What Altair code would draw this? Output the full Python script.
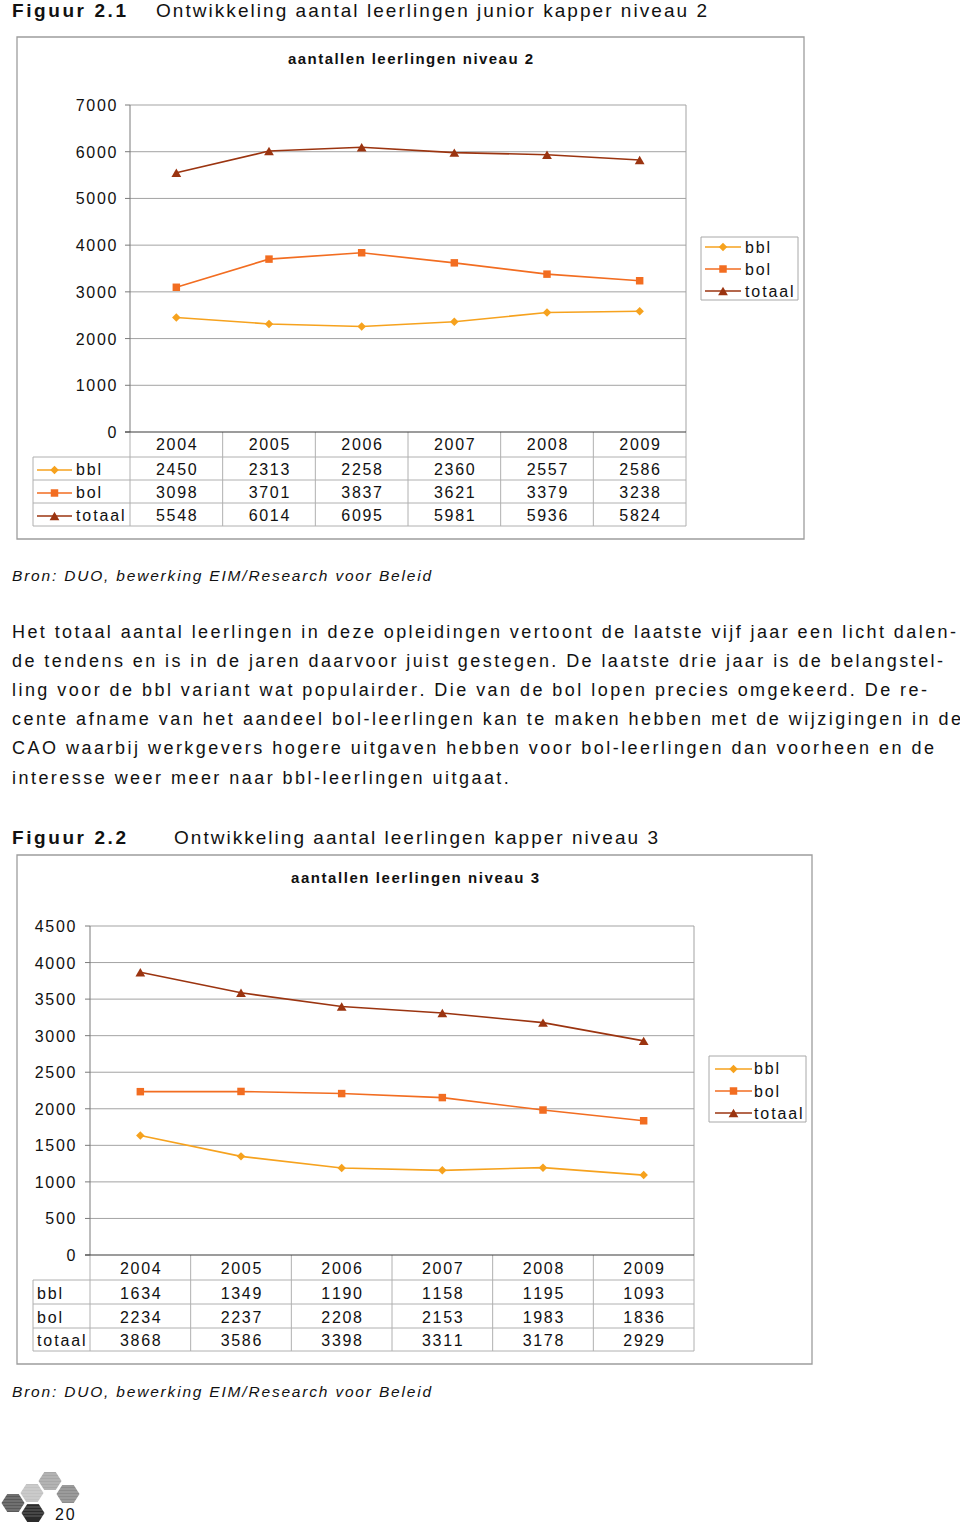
import altair as alt
import pandas as pd

# ---------------- data ----------------
years = ["2004", "2005", "2006", "2007", "2008", "2009"]
series = ["bbl", "bol", "totaal"]

n2_bbl = [2450, 2313, 2258, 2360, 2557, 2586]
n2_bol = [3098, 3701, 3837, 3621, 3379, 3238]
n2_totaal = [5548, 6014, 6095, 5981, 5936, 5824]
n2_ticks = [0, 1000, 2000, 3000, 4000, 5000, 6000, 7000]

n3_bbl = [1634, 1349, 1190, 1158, 1195, 1093]
n3_bol = [2234, 2237, 2208, 2153, 1983, 1836]
n3_totaal = [3868, 3586, 3398, 3311, 3178, 2929]
n3_ticks = [0, 500, 1000, 1500, 2000, 2500, 3000, 3500, 4000, 4500]

fig1_label = "Figuur 2.1"
fig1_title = "Ontwikkeling aantal leerlingen junior kapper niveau 2"
chart1_title = "aantallen leerlingen niveau 2"
fig2_label = "Figuur 2.2"
fig2_title = "Ontwikkeling aantal leerlingen kapper niveau 3"
chart2_title = "aantallen leerlingen niveau 3"
source_text = "Bron: DUO, bewerking EIM/Research voor Beleid"
paragraph = [
    "Het totaal aantal leerlingen in deze opleidingen vertoont de laatste vijf jaar een licht dalen-",
    "de tendens en is in de jaren daarvoor juist gestegen. De laatste drie jaar is de belangstel-",
    "ling voor de bbl variant wat populairder. Die van de bol lopen precies omgekeerd. De re-",
    "cente afname van het aandeel bol-leerlingen kan te maken hebben met de wijzigingen in de",
    "CAO waarbij werkgevers hogere uitgaven hebben voor bol-leerlingen dan voorheen en de",
    "interesse weer meer naar bbl-leerlingen uitgaat.",
]
page_number = "20"

# ---------------- styles ----------------
series_colors = ["#F6A21E", "#F26D21", "#9B3410"]
series_shapes = ["diamond", "square", "triangle-up"]
marker_sizes = [72, 56, 95]
TXT = "#111111"
GRID = "#a3a3a3"
TBL = "#b0b0b0"
AXIS = "#7a7a7a"
FONT = "Liberation Sans"

REG = {' ': 278, '!': 278, ',': 278, '-': 333, '.': 278, '/': 278, ':': 278,
       'A': 667, 'B': 667, 'C': 722, 'D': 722, 'E': 667, 'F': 611, 'G': 778, 'H': 722,
       'I': 278, 'J': 500, 'K': 667, 'L': 556, 'M': 833, 'N': 722, 'O': 778, 'P': 667,
       'Q': 778, 'R': 722, 'S': 667, 'T': 611, 'U': 722, 'V': 667, 'W': 944, 'X': 667,
       'Y': 667, 'Z': 611,
       'a': 556, 'b': 556, 'c': 500, 'd': 556, 'e': 556, 'f': 278, 'g': 556, 'h': 556,
       'i': 222, 'j': 222, 'k': 500, 'l': 222, 'm': 833, 'n': 556, 'o': 556, 'p': 556,
       'q': 556, 'r': 333, 's': 500, 't': 278, 'u': 556, 'v': 500, 'w': 722, 'x': 500,
       'y': 500, 'z': 500}
BOLD = dict(REG)
BOLD.update({'a': 556, 'b': 611, 'c': 556, 'd': 611, 'e': 556, 'f': 333, 'g': 611,
             'h': 611, 'i': 278, 'j': 278, 'k': 556, 'l': 278, 'm': 889, 'n': 611,
             'o': 611, 'p': 611, 'q': 611, 'r': 389, 's': 556, 't': 333, 'u': 611,
             'v': 556, 'w': 778, 'x': 556, 'y': 556, 'z': 500, 'F': 611})


def advances(s, style, size):
    tbl = BOLD if style == "bold" else REG
    return [tbl.get(c, 556) * size / 1000.0 for c in s]


def fit_k(s, style, size, x0, x1):
    w = advances(s, style, size)
    return (x1 - x0 - sum(w)) / max(len(s) - 1, 1)


def place(s, x0, y, size, style, k):
    rows = []
    x = x0
    for c, a in zip(s, advances(s, style, size)):
        if c != " ":
            rows.append({"ch": c, "x": x, "y": y, "size": size, "style": style})
        x += a + k
    return rows


# ---------------- page text (letter-spaced, char by char) ----------------
HS = 19   # heading size
PS = 18   # paragraph size
CS = 15   # chart title size
SS = 15.5  # source size
LS = 16   # chart labels size
rows = []
rows += place(fig1_label, 12, 11, HS, "bold", fit_k(fig1_label, "bold", HS, 12, 126))
rows += place(fig1_title, 156, 11, HS, "normal", fit_k(fig1_title, "normal", HS, 156, 707))
rows += place(chart1_title, 288, 59, CS, "bold", fit_k(chart1_title, "bold", CS, 288, 533))
rows += place(source_text, 12, 576, SS, "italic", fit_k(source_text, "normal", SS, 12, 431))
par_ends = [956, 943, 927, 961, 934]
ks = [fit_k(t, "normal", PS, 12, e) for t, e in zip(paragraph[:5], par_ends)]
kmean = sum(ks) / len(ks)
for j, line in enumerate(paragraph):
    k = ks[j] if j < len(ks) else kmean
    rows += place(line, 12, 632.5 + j * 29.2, PS, "normal", k)
rows += place(fig2_label, 12, 837.5, HS, "bold", fit_k(fig2_label, "bold", HS, 12, 126))
rows += place(fig2_title, 174, 837.5, HS, "normal", fit_k(fig2_title, "normal", HS, 174, 658))
rows += place(chart2_title, 291, 878, CS, "bold", fit_k(chart2_title, "bold", CS, 291, 539))
rows += place(source_text, 12, 1392, SS, "italic", fit_k(source_text, "normal", SS, 12, 431))
rows += place(page_number, 55, 1514.5, LS, "normal", 1.8)
# series labels in the tables and legends
LK = 1.9
for s, yy in zip(series, [470, 493, 516]):
    rows += place(s, 76, yy, LS, "normal", LK)
for s, yy in zip(series, [247.5, 269.5, 291.5]):
    rows += place(s, 745, yy, LS, "normal", LK)
for s, yy in zip(series, [1294, 1318, 1341]):
    rows += place(s, 37, yy, LS, "normal", LK)
for s, yy in zip(series, [1069, 1091.5, 1113.5]):
    rows += place(s, 754, yy, LS, "normal", LK)

page = pd.DataFrame(rows)


def text_layer(style):
    d = page[page["style"] == style]
    return alt.Chart(d).mark_text(
        align="left", baseline="middle", font=FONT, color=TXT,
        fontWeight="bold" if style == "bold" else "normal",
        fontStyle="italic" if style == "italic" else "normal",
    ).encode(
        x=alt.X("x:Q", scale=None, axis=None),
        y=alt.Y("y:Q", scale=None, axis=None),
        size=alt.Size("size:Q", scale=None, legend=None),
        text="ch:N",
    )


# logo (decorative hexagons)
HEX = "M-1,0 L-0.5,-0.78 L0.5,-0.78 L1,0 L0.5,0.78 L-0.5,0.78 Z"
logo = pd.DataFrame({
    "x": [50, 32, 68, 13, 33],
    "y": [1481, 1493, 1494, 1503, 1513],
    "col": ["#a8a8a8", "#c2c2c2", "#8c8c8c", "#5a5a5a", "#2b2b2b"],
})
logo_layer = alt.Chart(logo).mark_point(shape=HEX, filled=True, opacity=1, size=530).encode(
    x=alt.X("x:Q", scale=None, axis=None),
    y=alt.Y("y:Q", scale=None, axis=None),
    color=alt.Color("col:N", scale=None, legend=None),
)
# thin white stripes across the hexagons
stripes = pd.DataFrame({"y": [1474 + 3 * j for j in range(15)]})
stripe_layer = alt.Chart(stripes).mark_rule(color="white", strokeWidth=0.6, opacity=0.45).encode(
    x=alt.value(0), x2=alt.value(82), y=alt.Y("y:Q", scale=None, axis=None))

color_scale = alt.Scale(domain=series, range=series_colors)
shape_scale = alt.Scale(domain=series, range=series_shapes)

ADV = 10.6  # digit advance incl. letter spacing
NS = 16     # number font size


def build_chart(g, vals, ticks, table_markers):
    xs = alt.Scale(domain=[-0.5, 5.5], range=[g["x0"], g["x1"]], nice=False, zero=False)
    ys = alt.Scale(domain=[0, ticks[-1]], range=[g["ybot"], g["ytop"]], nice=False, zero=False)
    one = pd.DataFrame({"d": [0]})
    L = []
    # outer frame
    L.append(alt.Chart(one).mark_rect(fill="white", stroke="#9d9d9d", strokeWidth=1.3).encode(
        x=alt.value(g["bx0"]), x2=alt.value(g["bx1"]), y=alt.value(g["by0"]), y2=alt.value(g["by1"])))
    tdf = pd.DataFrame({"v": ticks})
    # gridlines
    L.append(alt.Chart(tdf[tdf.v > 0]).mark_rule(color=GRID, strokeWidth=1).encode(
        x=alt.value(g["x0"]), x2=alt.value(g["x1"]), y=alt.Y("v:Q", scale=ys, axis=None)))
    # tick marks
    L.append(alt.Chart(tdf).mark_rule(color=AXIS, strokeWidth=1).encode(
        x=alt.value(g["x0"] - 5), x2=alt.value(g["x0"]), y=alt.Y("v:Q", scale=ys, axis=None)))
    # right border
    L.append(alt.Chart(one).mark_rule(color=GRID, strokeWidth=1).encode(
        x=alt.value(g["x1"]), y=alt.value(g["ytop"]), y2=alt.value(g["ybot"])))
    # table column lines
    bdf = pd.DataFrame({"b": [-0.5 + j for j in range(7)]})
    L.append(alt.Chart(bdf).mark_rule(color=TBL, strokeWidth=1).encode(
        x=alt.X("b:Q", scale=xs, axis=None), y=alt.value(g["ybot"]), y2=alt.value(g["hl"][-1])))
    for yy in g["hl"]:
        L.append(alt.Chart(one).mark_rule(color=TBL, strokeWidth=1).encode(
            x=alt.value(g["tl"]), x2=alt.value(g["x1"]), y=alt.value(yy)))
    L.append(alt.Chart(one).mark_rule(color=TBL, strokeWidth=1).encode(
        x=alt.value(g["tl"]), y=alt.value(g["hl"][0]), y2=alt.value(g["hl"][-1])))
    # left axis & baseline
    L.append(alt.Chart(one).mark_rule(color=AXIS, strokeWidth=1).encode(
        x=alt.value(g["x0"]), y=alt.value(g["ytop"]), y2=alt.value(g["ybot"])))
    L.append(alt.Chart(tdf[tdf.v == 0]).mark_rule(color="#3a3a3a", strokeWidth=1.2).encode(
        x=alt.value(g["x0"] - 5), x2=alt.value(g["x1"]), y=alt.Y("v:Q", scale=ys, axis=None)))
    # y tick labels (right aligned, per character)
    lab = tdf.copy()
    s_lab = lab["v"].astype(str)
    for p in range(4):
        lab[f"r{p}"] = [t[len(t) - 1 - p] if p < len(t) else "" for t in s_lab]
    for p in range(4):
        L.append(alt.Chart(lab).mark_text(
            dx=-p * ADV, dy=1, align="center", baseline="middle", font=FONT, fontSize=NS, color=TXT
        ).encode(x=alt.value(g["lab_r"] - 4), y=alt.Y("v:Q", scale=ys, axis=None), text=f"r{p}:N"))
    # data lines and markers
    drows = []
    for s, v, ms in zip(series, vals, marker_sizes):
        for i, val in enumerate(v):
            drows.append({"i": i, "v": val, "series": s, "ms": ms})
    ddf = pd.DataFrame(drows)
    L.append(alt.Chart(ddf).mark_line(strokeWidth=1.6).encode(
        x=alt.X("i:Q", scale=xs, axis=None), y=alt.Y("v:Q", scale=ys, axis=None),
        color=alt.Color("series:N", scale=color_scale, legend=None), order="i:Q"))
    L.append(alt.Chart(ddf).mark_point(filled=True, opacity=1).encode(
        x=alt.X("i:Q", scale=xs, axis=None), y=alt.Y("v:Q", scale=ys, axis=None),
        color=alt.Color("series:N", scale=color_scale, legend=None),
        shape=alt.Shape("series:N", scale=shape_scale, legend=None),
        size=alt.Size("ms:Q", scale=None, legend=None)))
    # data table (years + values), per character
    table_rows = [years] + [[str(x) for x in v] for v in vals]
    for strs, yy in zip(table_rows, g["rows"]):
        tdfr = pd.DataFrame({"i": list(range(6))})
        for p in range(4):
            tdfr[f"c{p}"] = [t[p] for t in strs]
        for p in range(4):
            L.append(alt.Chart(tdfr).mark_text(
                dx=(p - 1.5) * ADV, align="center", baseline="middle", font=FONT, fontSize=NS, color=TXT
            ).encode(x=alt.X("i:Q", scale=xs, axis=None), y=alt.value(yy), text=f"c{p}:N"))
    # legend box
    L.append(alt.Chart(one).mark_rect(fill="white", stroke="#a8a8a8", strokeWidth=1).encode(
        x=alt.value(g["lg"][0]), x2=alt.value(g["lg"][1]), y=alt.value(g["lg"][2]), y2=alt.value(g["lg"][3])))
    keys = [(g["lgl"], g["lgy"])]
    if table_markers:
        keys.append((g["tml"], g["rows"][1:]))
    for (lx0, lx1), ylist in keys:
        for s, col, shp, ms, yy in zip(series, series_colors, series_shapes, marker_sizes, ylist):
            L.append(alt.Chart(one).mark_rule(color=col, strokeWidth=1.5).encode(
                x=alt.value(lx0), x2=alt.value(lx1), y=alt.value(yy)))
            L.append(alt.Chart(one).mark_point(filled=True, opacity=1, shape=shp, size=ms, color=col).encode(
                x=alt.value((lx0 + lx1) / 2), y=alt.value(yy)))
    return alt.layer(*L)


g1 = dict(x0=130, x1=686, ytop=105, ybot=432, bx0=17, bx1=804, by0=37, by1=539,
          tl=33, hl=[457, 480, 503, 526], rows=[444.5, 470, 493, 516], lab_r=116,
          lg=[701, 798, 237, 300], lgl=(705, 741), lgy=[247, 269, 291], tml=(37, 72))
g2 = dict(x0=90, x1=694, ytop=926, ybot=1255, bx0=17, bx1=812, by0=855, by1=1364,
          tl=33, hl=[1280, 1304, 1328, 1351], rows=[1268.5, 1294, 1318, 1341], lab_r=75,
          lg=[709, 806, 1056, 1122], lgl=(715, 752), lgy=[1069, 1091, 1113])

chart1 = build_chart(g1, [n2_bbl, n2_bol, n2_totaal], n2_ticks, True)
chart2 = build_chart(g2, [n3_bbl, n3_bol, n3_totaal], n3_ticks, False)

chart = alt.layer(
    chart1, chart2, logo_layer, stripe_layer,
    text_layer("normal"), text_layer("bold"), text_layer("italic"),
).resolve_scale(x="independent", y="independent").properties(
    width=960, height=1526, autosize=alt.AutoSizeParams(type="none"), padding=0,
    background="white",
).configure_view(stroke=None)

chart.save("out.html", embed_options={"renderer": "svg", "actions": False})
